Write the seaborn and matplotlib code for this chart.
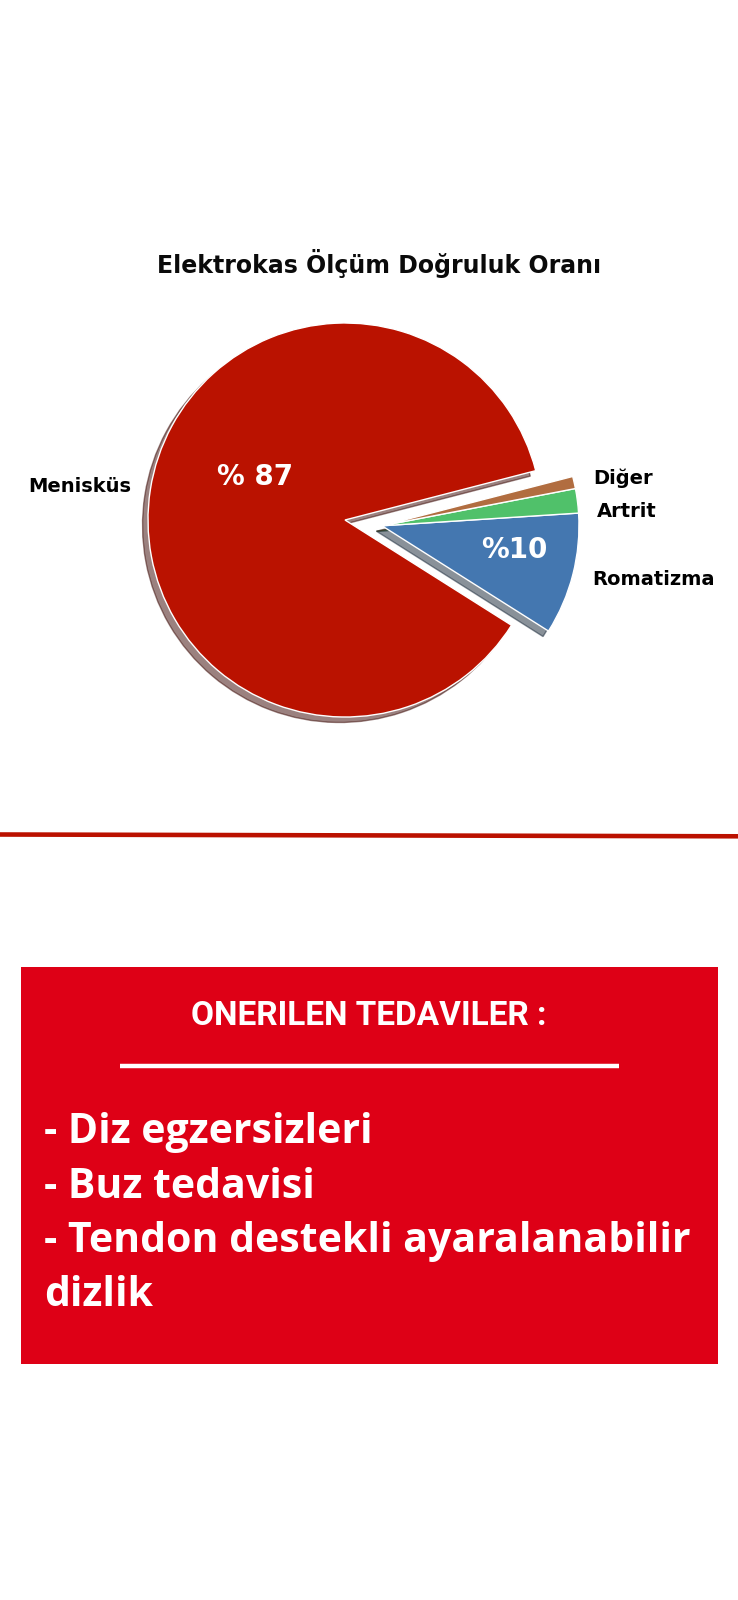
import matplotlib
matplotlib.use("Agg")
import matplotlib.pyplot as plt
import seaborn as sns
import numpy as np
from matplotlib.patches import Rectangle

# Pie data
labels = ["Menisküs", "Romatizma", "Artrit", "Diğer"]
values = [87, 10, 2, 1]
pct_labels = ["% 87", "%10"]
colors = ["#ba1200", "#4477b0", "#50c16a", "#b16d40"]

title = "Elektrokas Ölçüm Doğruluk Oranı"
heading = "ONERILEN TEDAVILER :"
treatments = ["- Diz egzersizleri", "- Buz tedavisi",
              "- Tendon destekli ayaralanabilir", "dizlik"]

sns.set_theme(style="white")
plt.rcParams['font.family'] = ['DejaVu Sans']

fig = plt.figure(figsize=(7.38, 16), dpi=100)

# background axes in pixel coords for the decoration below the pie
bg = fig.add_axes([0, 0, 1, 1])
bg.set_xlim(0, 738)
bg.set_ylim(1600, 0)
bg.axis('off')

# pie axes
ax = fig.add_axes([0, 1 - 810 / 1600, 1, 580 / 1600])

fracs = np.array(values) / sum(values)
start = 14.5
lbl_props = dict(fontsize=14, fontweight='bold', color='black')

# main slice
ax.pie(fracs[:1], normalize=False, colors=colors[:1], labels=labels[:1],
       startangle=start, labeldistance=1.1, shadow=True, textprops=lbl_props)

# the small slices pulled out together as one group
start2 = start + 360 * fracs[0]
mid = np.deg2rad(start2 + 180 * fracs[1:].sum())
off = (0.19 * np.cos(mid), 0.19 * np.sin(mid))
_, small_txt = ax.pie(fracs[1:], normalize=False, colors=colors[1:],
                      labels=labels[1:], startangle=start2, labeldistance=1.1,
                      shadow=True, center=off, textprops=lbl_props)
# push "Artrit" down a bit so it doesn't crowd "Diğer"
x, y = small_txt[1].get_position()
small_txt[1].set_position((x, y - 0.065))

pct_props = dict(fontsize=20, fontweight='bold', color='white',
                 ha='center', va='center')
ax.text(-0.457, 0.22, pct_labels[0], **pct_props)
ax.text(off[0] + 0.674, off[1] - 0.122, pct_labels[1], **pct_props)

ax.set_xlim(-345 / 197, 393 / 197)
ax.set_ylim(-290 / 197, 290 / 197)
ax.set_aspect('auto')

fig.text(379 / 738, 1 - 263 / 1600, title, ha='center', va='center',
         fontsize=17, fontweight='bold', color='#0a0a0a')

# red divider line
bg.plot([0, 738], [834.5, 836.3], color='#bb1100', lw=3.3,
        solid_capstyle='butt')

# treatment box
bg.add_patch(Rectangle((21.4, 966.6), 696.2, 397.1, color='#de0016', lw=0))
bg.text(368.5, 1015.6, heading, ha='center', va='center', color='white',
        fontsize=24, fontweight='bold', family=['Roboto', 'DejaVu Sans'])
bg.plot([120.4, 618.5], [1065.6, 1065.6], color='white', lw=3.2,
        solid_capstyle='butt')

for i, line in enumerate(treatments):
    bg.text(44, 1143 + i * 54.5, line, va='baseline', ha='left',
            color='white', fontsize=29.5, fontweight='bold',
            family=['Open Sans', 'DejaVu Sans'])

fig.savefig("out.png", dpi=100)
